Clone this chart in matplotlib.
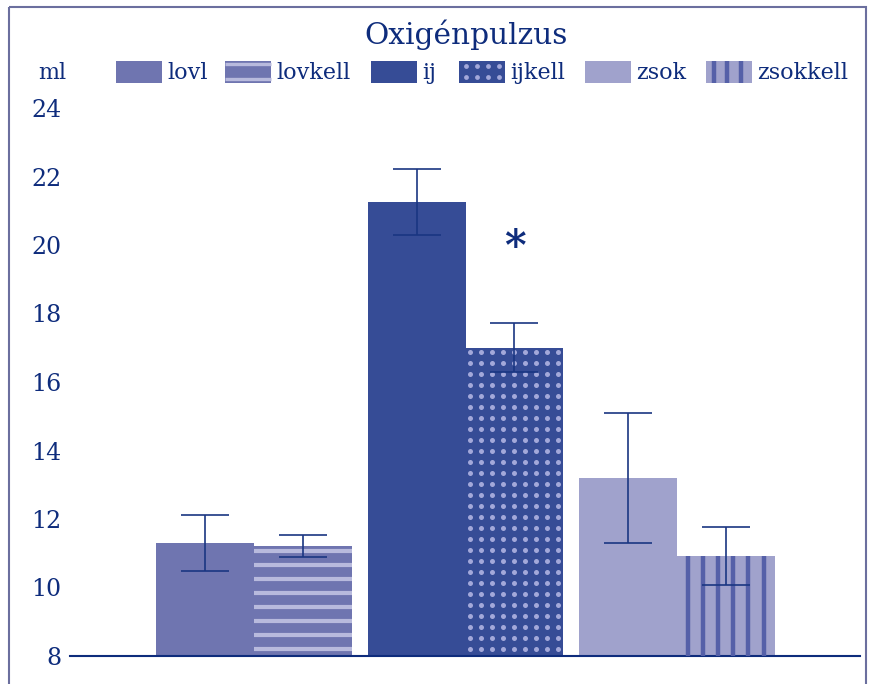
import numpy as np
import matplotlib.pyplot as plt
from matplotlib.patches import Rectangle

# group means and standard errors, ml per beat
labels = ["lovl", "lovkell", "ij", "ijkell", "zsok", "zsokkell"]
group_pos = [0, 0, 1, 1, 2, 2]
means = [11.3, 11.2, 21.25, 17.0, 13.2, 10.92]
errors = [0.82, 0.32, 0.97, 0.71, 1.9, 0.85]
yticks = [8, 10, 12, 14, 16, 18, 20, 22, 24]
star_label = "ijkell"

navy = "#0e2c7c"
err_col = "#1a3682"
face = ["#6f75b0", "#6f75b0", "#364c96", "#364c96", "#a0a2cc", "#a0a2cc"]
stripe_light = "#b8badd"
dot_light = "#a3a8da"
stripe_dark = "#5560a8"
font = "DejaVu Serif"

W, H = 869, 684
fig = plt.figure(figsize=(W / 100, H / 100), dpi=100)
ax = fig.add_axes([70 / W, 1 - 656 / H, 790 / W, 548 / H])
ax.set_facecolor("none")

w = 0.462
xs = np.array(group_pos) + np.array([-w / 2, w / 2] * 3)
bars = ax.bar(xs, np.array(means) - 8, bottom=8, width=w, color=face, zorder=2)
ax.errorbar(xs, means, yerr=errors, fmt="none", ecolor=err_col, elinewidth=1.2,
            capsize=17, capthick=1.2, zorder=5)

ax.set_xlim(-0.868, 2.863)
ax.set_ylim(8, 24)

# pixel size of one data unit, used to lay out the bar textures
px_x = 212.0
px_y = 34.25

# horizontal stripes on lovkell
b = bars[1]
x0, x1, top = b.get_x(), b.get_x() + b.get_width(), means[1]
ys = np.arange(top - 5 / px_y, 8.05, -14 / px_y)
ax.hlines(ys, x0, x1, colors=stripe_light, linewidth=3.0, zorder=3)

# dotted texture on ijkell
b = bars[3]
x0, x1, top = b.get_x(), b.get_x() + b.get_width(), means[3]
dx = np.arange(x0 + 4.3 / px_x, x1, 11 / px_x)
dy = np.arange(top - 4.7 / px_y, 8.05, -11 / px_y)
gx, gy = np.meshgrid(dx, dy)
ax.scatter(gx.ravel(), gy.ravel(), s=13, color=dot_light, linewidths=0, zorder=3)

# vertical stripes on zsokkell
b = bars[5]
x0, top = b.get_x(), means[5]
vx = x0 + (10.5 + 15.2 * np.arange(6)) / px_x
ax.vlines(vx, 8, top, colors=stripe_dark, linewidth=3.2, zorder=3)

# significance mark
si = labels.index(star_label)
ax.text(xs[si], 19.9, "*", ha="center", va="center", fontsize=30,
        fontweight="bold", color=navy, family=font, zorder=6)

for s in ["left", "right", "top"]:
    ax.spines[s].set_visible(False)
ax.spines["bottom"].set_color(navy)
ax.spines["bottom"].set_linewidth(1.5)
ax.set_xticks([])
ax.set_yticks(yticks)
ax.set_yticklabels([str(t) for t in yticks], color=navy, fontsize=17, family=font)
ax.tick_params(axis="y", length=0, pad=6)

# overlay in pixel coordinates for frame, title and legend
ov = fig.add_axes([0, 0, 1, 1], zorder=10)
ov.set_xlim(0, W)
ov.set_ylim(H, 0)
ov.axis("off")
ov.set_facecolor("none")
ov.add_patch(Rectangle((9, 7), 857, 690, fill=False, edgecolor="#6b6f9e", linewidth=1.5))
ov.text(466, 35, "Oxigénpulzus", ha="center", va="center", fontsize=21.3,
        color=navy, family=font)
ov.text(52, 73, "ml", ha="center", va="center", fontsize=16, color=navy, family=font)

leg_left = [116, 225, 371, 459, 585, 706]
pw, py0, ph = 46, 61, 22
for i, lab in enumerate(labels):
    lx = leg_left[i]
    ov.add_patch(Rectangle((lx, py0), pw, ph, facecolor=face[i], edgecolor="none"))
    if lab == "lovkell":
        ov.hlines([64, 79], lx, lx + pw, colors=stripe_light, linewidth=2.4)
    elif lab == "ijkell":
        px, py = np.meshgrid(lx + 7 + 11 * np.arange(4), [66, 77])
        ov.scatter(px.ravel(), py.ravel(), s=12, color=dot_light, linewidths=0)
    elif lab == "zsokkell":
        ov.vlines(lx + np.array([8, 21, 35]), py0, py0 + ph, colors=stripe_dark, linewidth=3.2)
    ov.text(lx + pw + 5, 73, lab, ha="left", va="center", fontsize=16,
            color=navy, family=font)

fig.savefig("out.png", dpi=100)
